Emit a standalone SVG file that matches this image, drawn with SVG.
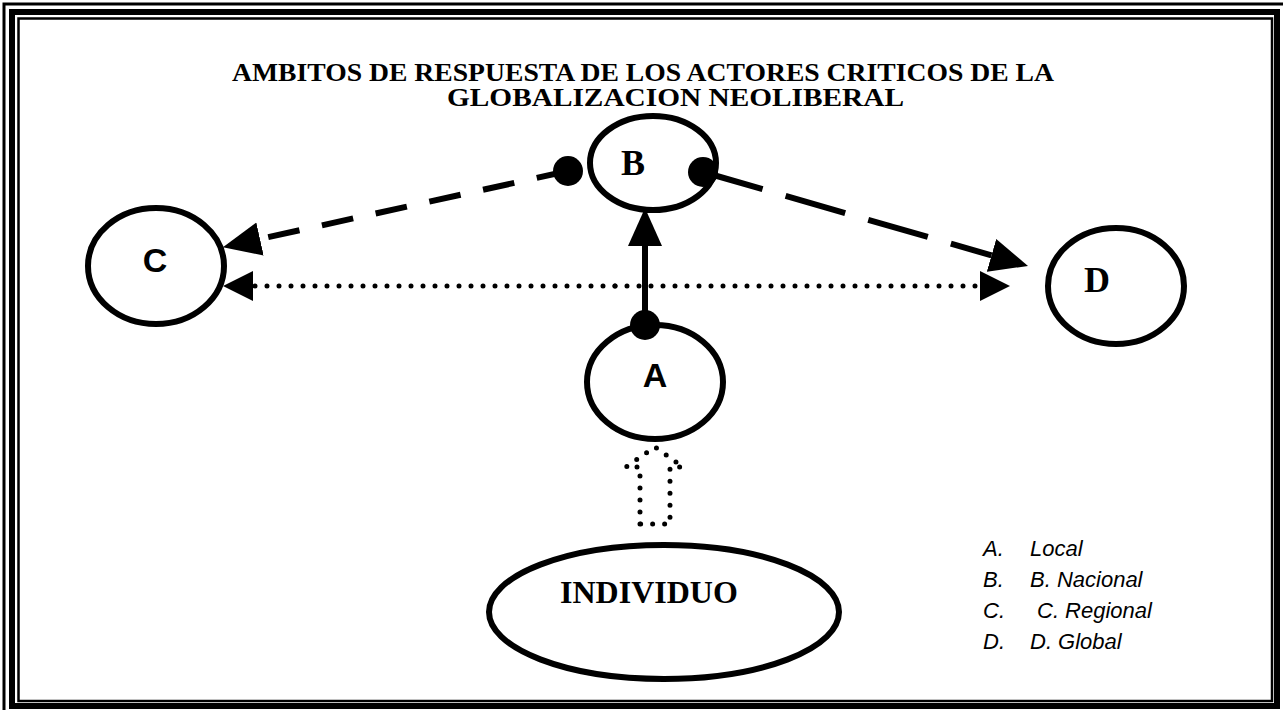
<svg xmlns="http://www.w3.org/2000/svg" width="1283" height="710" viewBox="0 0 1283 710">
<style>
.node{fill:#fff;stroke:#000;stroke-width:6}
.dot{fill:#000}
.serif{font-family:"Liberation Serif","Times New Roman",serif;font-weight:bold;fill:#000}
.sans{font-family:"Liberation Sans",Arial,sans-serif;font-weight:bold;fill:#000}
.leg{font-family:"Liberation Sans",Arial,sans-serif;font-style:italic;font-size:22px;fill:#000}
.dash1{stroke:#000;stroke-width:6;fill:none;stroke-dasharray:32 23}
.dash2{stroke:#000;stroke-width:6;fill:none;stroke-dasharray:62 24}
.dotted{stroke:#000;stroke-width:5;fill:none;stroke-dasharray:0 12;stroke-linecap:round}
</style>
<defs>
<marker id="bigArrow" markerUnits="userSpaceOnUse" markerWidth="40" markerHeight="36" viewBox="0 -18 40 36" refX="0" refY="0" orient="auto">
<path d="M0,-17 L38,0 L0,17 Z" fill="#000"/>
</marker>
<marker id="smallArrow" markerUnits="userSpaceOnUse" markerWidth="32" markerHeight="32" viewBox="0 -16 32 32" refX="0" refY="0" orient="auto">
<path d="M0,-15 L30,0 L0,15 Z" fill="#000"/>
</marker>
</defs>
<rect width="1283" height="710" fill="#fff"/>
<g id="frame" fill="none" stroke="#000">
<rect x="4" y="4" width="1285" height="711" stroke-width="3"/>
<rect x="12" y="12" width="1265" height="694" stroke-width="6"/>
<rect x="18.5" y="18.5" width="1253.5" height="682.5" stroke-width="2.5"/>
</g>
<g id="title" class="serif" font-size="25">
<text x="232" y="81" textLength="822" lengthAdjust="spacingAndGlyphs">AMBITOS DE RESPUESTA DE LOS ACTORES CRITICOS DE LA</text>
<text x="447" y="106" textLength="457" lengthAdjust="spacingAndGlyphs">GLOBALIZACION NEOLIBERAL</text>
</g>
<g id="connectors">
<line class="dash1" x1="568" y1="171" x2="260" y2="239" marker-end="url(#bigArrow)"/>
<line class="dash2" x1="703" y1="172" x2="991.5" y2="255.4" marker-end="url(#bigArrow)"/>
<line x1="645" y1="325" x2="645" y2="246" stroke="#000" stroke-width="6" marker-end="url(#bigArrow)"/>
<line class="dotted" x1="615" y1="286" x2="253" y2="286" marker-end="url(#smallArrow)"/>
<line class="dotted" x1="615" y1="286" x2="980" y2="286" marker-end="url(#smallArrow)"/>
<path class="dotted" d="M640,524 L640,467 L626,467 L655,447 L683,467 L670,467 L670,524 Z"/>
</g>
<g id="node-B">
<ellipse class="node" cx="653" cy="163" rx="63" ry="47" stroke-width="7"/>
<text class="serif" x="633" y="175" font-size="36" text-anchor="middle">B</text>
<circle class="dot" cx="568" cy="171" r="15"/>
<circle class="dot" cx="703" cy="172" r="15"/>
</g>
<g id="node-C">
<ellipse class="node" cx="156" cy="266" rx="68" ry="58"/>
<text class="sans" x="155" y="272" font-size="34" text-anchor="middle">C</text>
</g>
<g id="node-D">
<ellipse class="node" cx="1116" cy="286" rx="68" ry="58"/>
<text class="serif" x="1097" y="292" font-size="36" text-anchor="middle">D</text>
</g>
<g id="node-A">
<ellipse class="node" cx="655" cy="382" rx="68" ry="57"/>
<circle class="dot" cx="645" cy="325" r="15"/>
<text class="sans" x="655" y="387" font-size="34" text-anchor="middle">A</text>
</g>
<g id="node-INDIVIDUO">
<ellipse class="node" cx="664" cy="612" rx="175" ry="67"/>
<text class="serif" x="560" y="603" font-size="32">INDIVIDUO</text>
</g>
<g id="legend" class="leg">
<text x="983" y="556">A.</text><text x="1030" y="556">Local</text>
<text x="983" y="587">B.</text><text x="1030" y="587">B. Nacional</text>
<text x="983" y="618">C.</text><text x="1037" y="618">C. Regional</text>
<text x="983" y="649">D.</text><text x="1030" y="649">D. Global</text>
</g>
</svg>
